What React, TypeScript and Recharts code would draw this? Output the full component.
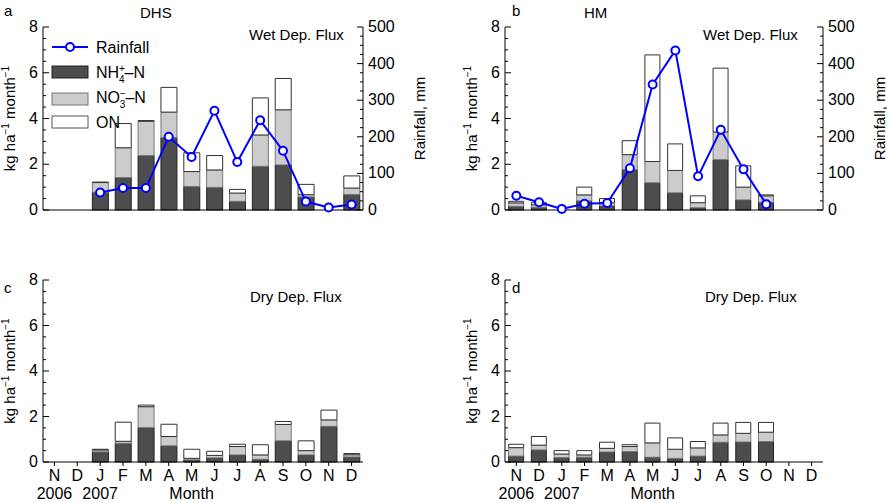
import React from 'react';
import { ComposedChart, Bar, Line, XAxis, YAxis, Label } from 'recharts';

const months = ['N', 'D', 'J', 'F', 'M', 'A', 'M', 'J', 'J', 'A', 'S', 'O', 'N', 'D'];
const years = ['2006', '', '2007', '', '', '', '', '', '', '', '', '', '', ''];

// DHS wet
const dhsWetNH4 = [null, null, 0.78, 1.42, 2.38, 3.17, 1.03, 0.99, 0.38, 1.91, 1.97, 0.57, null, 0.68];
const dhsWetNO3 = [null, null, 0.42, 1.3, 1.5, 1.11, 0.65, 0.76, 0.36, 1.37, 2.41, 0.1, null, 0.28];
const dhsWetON = [null, null, 0.02, 1.06, 0.03, 1.08, 0.82, 0.63, 0.16, 1.62, 1.37, 0.45, null, 0.53];
const dhsRain = [null, null, 48, 60, 60, 200, 145, 271, 131, 245, 162, 23, 7, 15];

// HM wet
const hmWetNH4 = [0.16, 0.12, null, 0.4, 0.18, 1.76, 1.19, 0.75, 0.1, 2.2, 0.44, 0.34, null, null];
const hmWetNO3 = [0.15, 0.11, null, 0.26, 0.14, 0.66, 0.93, 0.98, 0.22, 1.21, 0.56, 0.28, null, null];
const hmWetON = [0.07, 0.09, null, 0.34, 0.18, 0.61, 4.66, 1.16, 0.3, 2.79, 0.93, 0.04, null, null];
const hmRain = [39, 21, 3, 17, 19, 114, 343, 436, 92, 219, 111, 16, null, null];

// DHS dry
const dhsDryNH4 = [null, null, 0.44, 0.82, 1.51, 0.71, 0.09, 0.18, 0.31, 0.12, 0.93, 0.31, 1.57, 0.22];
const dhsDryNO3 = [null, null, 0.09, 0.09, 0.92, 0.41, 0.07, 0.11, 0.37, 0.19, 0.72, 0.19, 0.28, 0.1];
const dhsDryON = [null, null, 0.03, 0.84, 0.07, 0.54, 0.4, 0.18, 0.1, 0.45, 0.13, 0.43, 0.43, 0.05];

// HM dry
const hmDryNH4 = [0.26, 0.53, 0.19, 0.21, 0.44, 0.46, 0.21, 0.16, 0.26, 0.87, 0.88, 0.9, null, null];
const hmDryNO3 = [0.37, 0.21, 0.16, 0.1, 0.16, 0.22, 0.63, 0.4, 0.36, 0.32, 0.38, 0.41, null, null];
const hmDryON = [0.15, 0.38, 0.15, 0.19, 0.27, 0.08, 0.87, 0.5, 0.28, 0.52, 0.48, 0.43, null, null];

const build = (a: any[], b: any[], c: any[], r?: any[]) =>
  months.map((m, i) => ({ i, m, y: years[i], nh4: a[i], no3: b[i], on: c[i], rain: r ? r[i] : null }));

const FONT = 'Liberation Sans, Arial, sans-serif';
const leftTicks = Array.from({ length: 17 }, (_, k) => k * 0.5);
const rightTicks = Array.from({ length: 21 }, (_, k) => k * 25);

const LeftTick = (p: any) => {
  const v = p.payload.value;
  const ax = p.x + 6;
  const major = v % 2 === 0;
  return (
    <g>
      <line x1={ax} x2={ax + (major ? 6 : 3)} y1={p.y} y2={p.y} stroke="#000" />
      {major && (
        <text x={ax - 5} y={p.y + 5} textAnchor="end" fontSize={16} fontFamily={FONT} fill="#000">{v}</text>
      )}
    </g>
  );
};

const RightTick = (p: any) => {
  const v = p.payload.value;
  const ax = p.x - 6;
  const major = v % 100 === 0;
  return (
    <g>
      <line x1={ax} x2={ax - (major ? 6 : 3)} y1={p.y} y2={p.y} stroke="#000" />
      {major && (
        <text x={ax + 5} y={p.y + 5} textAnchor="start" fontSize={16} fontFamily={FONT} fill="#000">{v}</text>
      )}
    </g>
  );
};

const MonthTick = (p: any) => {
  const idx = p.index;
  const ay = p.y;
  return (
    <g>
      <line x1={p.x} x2={p.x} y1={ay} y2={ay + 4} stroke="#000" />
      <text x={p.x} y={ay + 19} textAnchor="middle" fontSize={16} fontFamily={FONT} fill="#000">{months[idx]}</text>
      {years[idx] && (
        <text x={p.x} y={ay + 37} textAnchor="middle" fontSize={16} fontFamily={FONT} fill="#000">{years[idx]}</text>
      )}
      {idx === 6 && (
        <text x={p.x} y={ay + 37} textAnchor="middle" fontSize={16} fontFamily={FONT} fill="#000">Month</text>
      )}
    </g>
  );
};

const YLabel = (props: any) => {
  const vb = props.viewBox;
  const cx = 15;
  const cy = vb.y + vb.height / 2;
  return (
    <text transform={`rotate(-90 ${cx} ${cy})`} x={cx} y={cy} textAnchor="middle" fontSize={15} fontFamily={FONT} fill="#000">
      kg ha<tspan dy={-6} fontSize={10}>−1</tspan><tspan dy={6}> month</tspan><tspan dy={-6} fontSize={10}>−1</tspan>
    </text>
  );
};

const RLabel = (props: any) => {
  const vb = props.viewBox;
  const cx = vb.x + 62;
  const cy = vb.y + vb.height / 2;
  return (
    <text transform={`rotate(-90 ${cx} ${cy})`} x={cx} y={cy} textAnchor="middle" fontSize={15} fontFamily={FONT} fill="#000">
      Rainfall, mm
    </text>
  );
};

const Panel = ({ data, wet, width }: { data: any[]; wet: boolean; width: number }) => (
  <ComposedChart
    width={width}
    height={wet ? 225 : 253}
    data={data}
    margin={{ top: wet ? 27 : 30, right: 0, left: 0, bottom: 0 }}
    barCategoryGap="16%"
    style={{ overflow: 'visible' }}
  >
    <XAxis
      dataKey="i"
      height={wet ? 15 : 41}
      axisLine={{ stroke: '#000' }}
      tickLine={false}
      tick={wet ? false : MonthTick}
      tickSize={0}
      tickMargin={0}
      interval={0}
    />
    <YAxis
      yAxisId="l"
      width={43}
      domain={[0, 8]}
      ticks={leftTicks}
      interval={0}
      tick={LeftTick}
      tickLine={false}
      tickSize={0}
      tickMargin={6}
      axisLine={{ stroke: '#000' }}
    >
      <Label content={YLabel} />
    </YAxis>
    <YAxis
      yAxisId="r"
      orientation="right"
      width={80}
      domain={[0, 500]}
      ticks={rightTicks}
      interval={0}
      tick={wet ? RightTick : false}
      tickLine={false}
      tickSize={0}
      tickMargin={6}
      axisLine={wet ? { stroke: '#000' } : false}
    >
      {wet && <Label content={RLabel} />}
    </YAxis>
    <Bar yAxisId="l" dataKey="nh4" stackId="s" fill="#4d4d4d" stroke="#222" isAnimationActive={false} />
    <Bar yAxisId="l" dataKey="no3" stackId="s" fill="#cccccc" stroke="#777" isAnimationActive={false} />
    <Bar yAxisId="l" dataKey="on" stackId="s" fill="#ffffff" stroke="#333" isAnimationActive={false} />
    {wet && (
      <Line
        yAxisId="r"
        dataKey="rain"
        stroke="#0000ff"
        strokeWidth={2}
        dot={{ r: 4, fill: '#fff', stroke: '#0000ff', strokeWidth: 2 }}
        isAnimationActive={false}
        connectNulls={false}
      />
    )}
  </ComposedChart>
);

const txt = (s: any, left: number, top: number, size = 15) => (
  <div style={{ position: 'absolute', left, top, fontSize: size, fontFamily: FONT, lineHeight: 1, whiteSpace: 'nowrap' }}>{s}</div>
);

const Legend = () => (
  <svg style={{ position: 'absolute', left: 48, top: 36 }} width={140} height={100}>
    <line x1={4} x2={40} y1={11} y2={11} stroke="#0000ff" strokeWidth={2} />
    <circle cx={22} cy={11} r={4} fill="#fff" stroke="#0000ff" strokeWidth={2} />
    <text x={48} y={17} fontSize={16} fontFamily={FONT}>Rainfall</text>
    <rect x={4} y={30} width={36} height={12} fill="#4d4d4d" stroke="#222" />
    <text x={48} y={42} fontSize={16} fontFamily={FONT}>NH<tspan dy={-6} fontSize={10}>+</tspan><tspan dx={-6} dy={11} fontSize={10}>4</tspan><tspan dy={-5}>–N</tspan></text>
    <rect x={4} y={57} width={36} height={12} fill="#cccccc" stroke="#777" />
    <text x={48} y={67} fontSize={16} fontFamily={FONT}>NO<tspan dy={-6} fontSize={10}>−</tspan><tspan dx={-6} dy={11} fontSize={10}>3</tspan><tspan dy={-5}>–N</tspan></text>
    <rect x={4} y={80} width={36} height={12} fill="#ffffff" stroke="#555" />
    <text x={48} y={92} fontSize={16} fontFamily={FONT}>ON</text>
  </svg>
);

export default function App() {
  return (
    <div style={{ position: 'absolute', left: 0, top: 0, width: 887, height: 503, background: '#fff' }}>
      <div style={{ position: 'absolute', left: 0, top: 0 }}>
        <Panel data={build(dhsWetNH4, dhsWetNO3, dhsWetON, dhsRain)} wet width={443} />
      </div>
      <div style={{ position: 'absolute', left: 462, top: 0 }}>
        <Panel data={build(hmWetNH4, hmWetNO3, hmWetON, hmRain)} wet width={441} />
      </div>
      <div style={{ position: 'absolute', left: 0, top: 250 }}>
        <Panel data={build(dhsDryNH4, dhsDryNO3, dhsDryON)} wet={false} width={443} />
      </div>
      <div style={{ position: 'absolute', left: 462, top: 250 }}>
        <Panel data={build(hmDryNH4, hmDryNO3, hmDryON)} wet={false} width={441} />
      </div>
      <Legend />
      {txt('a', 4, 3)}
      {txt('b', 512, 3)}
      {txt('c', 4, 280)}
      {txt('d', 512, 280)}
      {txt('DHS', 140, 5)}
      {txt('HM', 584, 5)}
      {txt('Wet Dep. Flux', 249, 27)}
      {txt('Wet Dep. Flux', 703, 27)}
      {txt('Dry Dep. Flux', 250, 289)}
      {txt('Dry Dep. Flux', 705, 289)}
    </div>
  );
}
